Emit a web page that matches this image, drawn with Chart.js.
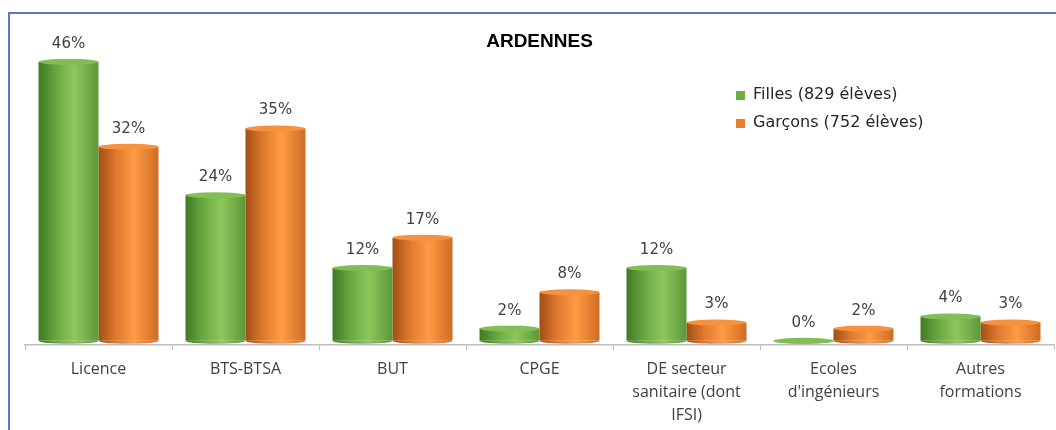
<!DOCTYPE html>
<html>
<head>
<meta charset="utf-8">
<script src="https://cdn.jsdelivr.net/npm/chart.js@4"></script>
<style>
  body { margin: 0; overflow: hidden; background: #fff; }
  #wrap { position: relative; width: 1056px; height: 430px; overflow: hidden; }
  #frame { position: absolute; left: 8px; top: 12px; width: 1100px; height: 500px; border: 2px solid #5a78c6; }
  #chart { position: absolute; left: 0; top: 0; }
</style>
</head>
<body>
<div id="wrap">
  <div id="frame"></div>
  <canvas id="chart" width="1056" height="430"></canvas>
</div>
<script>
const categories = ['Licence', 'BTS-BTSA', 'BUT', 'CPGE', ['DE secteur', 'sanitaire (dont', 'IFSI)'], ['Ecoles', "d'ingénieurs"], ['Autres', 'formations']];
const filles = [46, 24, 12, 2, 12, 0, 4];
const garcons = [32, 35, 17, 8, 3, 2, 3];
const seriesNames = ['Filles (829 élèves)', 'Garçons (752 élèves)'];
const chartTitle = 'ARDENNES';

// cylinder look: dark / light / dark across each bar
const palettes = [
    { stops: ['#3f7a22', '#6aa843', '#8cc75c', '#5d9838'], cap: '#82bd56', key: '#70ad47' },
    { stops: ['#a24e14', '#e07a2e', '#ff9a45', '#d06c22'], cap: '#f5913f', key: '#ed7d31' }
];
const catPct = 0.816;

function cylinder(ctx) {
    const chart = ctx.chart;
    const x = chart.scales.x;
    const pal = palettes[ctx.datasetIndex];
    if (!x || !chart.chartArea) return pal.key;
    const cat = x.width / categories.length;
    const w = cat * catPct / 2;
    const c = x.getPixelForValue(ctx.dataIndex);
    const left = ctx.datasetIndex === 0 ? c - w : c;
    const g = chart.ctx.createLinearGradient(left, 0, left + w, 0);
    g.addColorStop(0, pal.stops[0]);
    g.addColorStop(0.3, pal.stops[1]);
    g.addColorStop(0.6, pal.stops[2]);
    g.addColorStop(1, pal.stops[3]);
    return g;
}

const extras = {
    id: 'extras',
    afterDatasetsDraw(chart) {
        const ctx = chart.ctx;
        ctx.save();
        chart.data.datasets.forEach((ds, di) => {
            const pal = palettes[di];
            chart.getDatasetMeta(di).data.forEach((el, i) => {
                const w = el.width;
                // rounded bottom
                ctx.beginPath();
                ctx.ellipse(el.x, el.base, w / 2, 3, 0, 0, Math.PI);
                ctx.fillStyle = el.options.backgroundColor;
                ctx.fill();
                // top cap
                ctx.beginPath();
                ctx.ellipse(el.x, el.y, w / 2, 3, 0, 0, Math.PI * 2);
                ctx.fillStyle = pal.cap;
                ctx.fill();
                // value label
                ctx.fillStyle = '#404040';
                ctx.font = '15px "DejaVu Sans"';
                ctx.textAlign = 'center';
                ctx.textBaseline = 'middle';
                ctx.fillText(ds.data[i] + '%', el.x, el.y - 18);
            });
        });
        // legend
        const lx = 736;
        seriesNames.forEach((name, i) => {
            const ly = 95 + i * 28;
            ctx.fillStyle = palettes[i].key;
            ctx.fillRect(lx, ly - 4, 9, 9);
            ctx.fillStyle = '#262626';
            ctx.font = '16px "DejaVu Sans"';
            ctx.textAlign = 'left';
            ctx.textBaseline = 'middle';
            ctx.fillText(name, lx + 17, ly);
        });
        ctx.restore();
    }
};

new Chart(document.getElementById('chart').getContext('2d'), {
    type: 'bar',
    data: {
        labels: categories,
        datasets: [
            { label: seriesNames[0], data: filles, backgroundColor: cylinder, borderWidth: 0 },
            { label: seriesNames[1], data: garcons, backgroundColor: cylinder, borderWidth: 0 }
        ]
    },
    options: {
        responsive: false,
        animation: false,
        categoryPercentage: catPct,
        barPercentage: 1,
        layout: { padding: { left: 25, right: 2, top: 0, bottom: -4 } },
        scales: {
            x: {
                grid: { drawOnChartArea: false, drawTicks: true, tickLength: 6, color: '#c0c0c0' },
                border: { color: '#c0c0c0', width: 1.5 },
                ticks: {
                    color: '#404040',
                    padding: 7,
                    maxRotation: 0,
                    autoSkip: false,
                    font: { family: 'Open Sans', size: 16, lineHeight: 1.45 }
                }
            },
            y: { display: false, min: -0.6, max: 47.5 }
        },
        plugins: {
            legend: { display: false },
            tooltip: { enabled: false },
            title: {
                display: true,
                text: chartTitle,
                color: '#000',
                font: { family: 'Liberation Sans', size: 19, weight: 'bold' },
                padding: { top: 30, bottom: 0 }
            }
        }
    },
    plugins: [extras]
});
</script>
</body>
</html>
